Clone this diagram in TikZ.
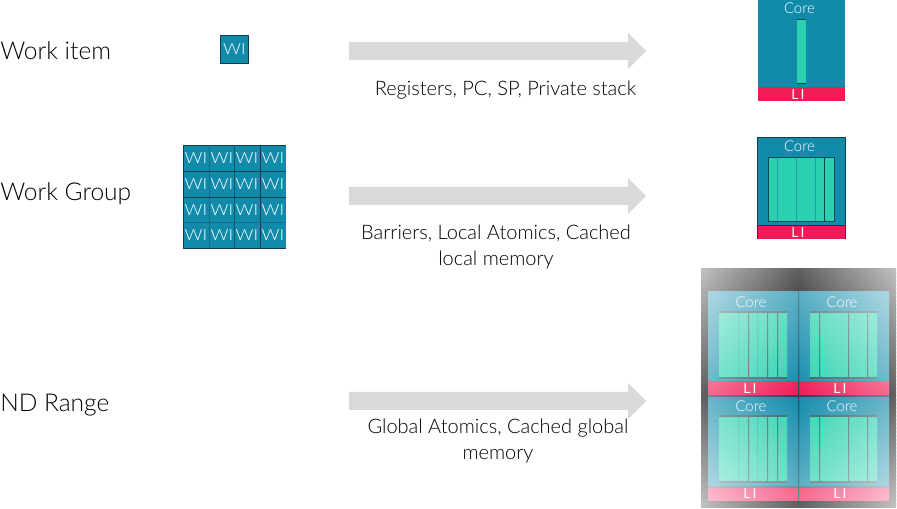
\documentclass[tikz,border=0pt]{standalone}
\usepackage{fontspec}
\usepackage{graphicx}
\setmainfont{Lato}[UprightFont=* Light]
\newfontfamily\smallf{Lato}
\definecolor{teal1}{HTML}{128BAB}
\definecolor{green1}{HTML}{2AD1AE}
\definecolor{red1}{HTML}{F01B57}
\definecolor{arrowgray}{HTML}{D9D9D9}
\definecolor{edge1}{HTML}{0B3F50}
\definecolor{gridgray}{HTML}{3A5A60}
\definecolor{crossgray}{HTML}{1A4A58}
\definecolor{faintgreen}{HTML}{22B8A8}
\tikzset{
  lab/.style={font=\fontsize{18.4pt}{22pt}\selectfont,text=black,inner sep=0pt,anchor=west},
  captext/.style={font=\fontsize{15pt}{19.5pt}\selectfont,text=black,inner sep=0pt,align=center},
  wi/.style={font=\fontsize{11.5pt}{13pt}\selectfont,text=white,inner sep=0pt},
  li/.style={font=\smallf\fontsize{10.4pt}{11pt}\selectfont,text=white,inner sep=0pt},
  corelab/.style={font=\fontsize{11.2pt}{12pt}\selectfont,text=white,inner sep=0pt},
  arrowshape/.style={fill=arrowgray,draw=none},
  darkline/.style={draw=edge1,line width=0.8pt},
  softline/.style={draw=teal1!70!green1,line width=0.7pt},
}
\newcommand{\bigarrow}[1]{\fill[arrowshape] (349,#1-9)--(628,#1-9)--(628,#1-18)--(646,#1)--(628,#1+18)--(628,#1+9)--(349,#1+9)--cycle;}
\newcommand{\WItext}{\scalebox{1.15}[1]{WI}}
\newcommand{\LItext}{L\kern1.6pt I}
% white wash that grows linearly from the centre of the cluster to its corners
\newcommand{\washat}[3]{\pgfmathsetmacro#3{min(76,38*(abs(#1-798.5)/97.5+abs(#2-396)/(((#2)<396)?127:112)))}}
\def\wstep{4}
\newcommand{\wrect}[5]{%
  \pgfmathsetmacro\wxa{#2}\pgfmathsetmacro\wxb{#4}%
  \pgfmathsetmacro\wya{#3}\pgfmathsetmacro\wyb{#5}%
  \pgfmathtruncatemacro\wcount{max(1,round((\wyb-\wya)/\wstep))}%
  \foreach \wk in {1,...,\wcount}{%
    \pgfmathsetmacro\wtop{\wya+(\wk-1)*(\wyb-\wya)/\wcount}%
    \pgfmathsetmacro\wmid{\wya+(\wk-0.5)*(\wyb-\wya)/\wcount}%
    \pgfmathsetmacro\wend{min(\wyb,\wtop+(\wyb-\wya)/\wcount+0.6)}%
    \washat{\wxa}{\wmid}{\wcl}\washat{\wxb}{\wmid}{\wcr}%
    \shade[left color=white!\wcl!#1,right color=white!\wcr!#1] (\wxa,\wtop) rectangle (\wxb,\wend);
  }}
\newcommand{\wvline}[4]{{\def\wstep{10}\wrect{#1}{#2}{#3}{#2+1}{#4}}}
\newcommand{\whline}[4]{\wrect{#1}{#3}{#2}{#4}{#2+1}}
\begin{document}
\begin{tikzpicture}[x=0.75pt,y=-0.75pt]
\useasboundingbox (0,0) rectangle (897,509);
% labels
\node[lab] (l1) at (0,51) {Work item};
\node[lab] (l2) at (0,193.5) {Work Group};
\node[lab] (l3) at (0,405.5) {ND Range};
% arrows
\bigarrow{51}
\bigarrow{196}
\bigarrow{401}
\node[captext] (c1) at (505.5,90.5) {Registers, PC, SP, Private stack};
\node[captext] (c2) at (496,246.5) {Barriers, Local Atomics, Cached\\local memory};
\node[captext] (c3) at (498,441) {Global Atomics, Cached global\\memory};
% single WI
\node[draw=edge1,fill=teal1,line width=0.8pt,minimum width=21.3pt,minimum height=21.3pt,inner sep=0pt,wi] (w) at (234.5,49.5) {\WItext};
% WI grid
\fill[teal1] (183.3,145.3) rectangle (286,248.3);
\draw[edge1,line width=0.8pt] (286,145.3)--(183.3,145.3)--(183.3,248.3)--(286,248.3);
\draw[edge1,line width=0.8pt] (260.3,145.3)--(260.3,248.3);
\draw[edge1!70!teal1,line width=0.7pt] (234.7,145.3)--(234.7,248.3);
\draw[teal1!80!black,line width=0.5pt] (209.3,145.3)--(209.3,248.3);
\draw[edge1,line width=0.7pt] (183.3,171.3)--(286,171.3) (183.3,197.3)--(286,197.3);
\draw[teal1!80!black,line width=0.5pt] (183.3,222.7)--(286,222.7);
\foreach \yy [count=\r] in {158,184,210,235}{
  \foreach \xx [count=\k] in {196,222,247,273}{
    \node[wi] (g\r\k) at (\xx,\yy) {\WItext};
  }
}
% top single core
\fill[teal1] (758,0) rectangle (845,87.3);
\fill[red1] (758,87.3) rectangle (845,101);
\fill[green1] (797,19.3) rectangle (806,83.5);
\draw[darkline] (797,19.3)--(806,19.3) (797,83.5)--(806,83.5);
\node[corelab] (a) at (799.5,8) {Core};
\node[li] (al) at (798,94.3) {\LItext};
% work group core
\fill[teal1] (757.3,137.3) rectangle (845.5,225.3);
\fill[red1] (757.3,225.3) rectangle (845.5,239);
\draw[edge1,line width=0.8pt] (757.3,239)--(757.3,137.3)--(845.5,137.3)--(845.5,239);
\draw[edge1,line width=0.8pt] (757.3,225.3)--(845.5,225.3);
\fill[green1] (768.3,157.3) rectangle (834.7,221.3);
\draw[softline] (777.3,157.3)--(777.3,221.3) (796.3,157.3)--(796.3,221.3) (815.3,157.3)--(815.3,221.3);
\draw[darkline] (824.3,157.3)--(824.3,221.3);
\draw[darkline,draw=teal1!50!black] (768.3,157.3) rectangle (834.7,221.3);
\node[corelab] (b) at (799.5,146) {Core};
\node[li] (bl) at (798,232.3) {\LItext};
% ND range: background
\wrect{black}{701}{269}{798.5}{396}
\wrect{black}{798.5}{269}{896}{396}
\wrect{black}{701}{396}{798.5}{508}
\wrect{black}{798.5}{396}{896}{508}
% ND range: four cores
\foreach \xa/\xb in {708/798.5,798.5/889}{
  \wrect{teal1}{\xa}{292}{\xb}{382}
  \wrect{red1}{\xa}{382}{\xb}{396}
  \wrect{teal1}{\xa}{396}{\xb}{487}
  \wrect{red1}{\xa}{487}{\xb}{501}
  \whline{crossgray}{396}{\xa}{\xb}
  \whline{gridgray}{487}{\xa}{\xb}
}
\foreach \ya/\yb in {312/378,416/482}{
  \wrect{green1}{719}{\ya}{787}{\yb}
  \wrect{green1}{810}{\ya}{877}{\yb}
  \foreach \xx in {738,757}{
    \wvline{faintgreen}{\xx}{\ya}{\yb}
  }
  \foreach \xx in {748,767,777,819,848,867}{
    \wvline{gridgray}{\xx}{\ya}{\yb}
  }
  \whline{gridgray}{\ya}{719}{787}
  \whline{gridgray}{\ya}{810}{877}
  \whline{gridgray}{\yb}{719}{787}
  \whline{gridgray}{\yb}{810}{877}
}
\wvline{crossgray}{798}{292}{396}
\wvline{crossgray}{798}{396}{501}
\node[corelab] (q1) at (751,302) {Core};
\node[corelab] (q2) at (842,302) {Core};
\node[corelab] (q3) at (751,406.5) {Core};
\node[corelab] (q4) at (842,406.5) {Core};
\foreach \nn/\xx/\yy in {r1/750/389,r2/840/389,r3/750/494,r4/840/494}{
  \node[li] (\nn) at (\xx,\yy) {\LItext};
}
\end{tikzpicture}
\end{document}
